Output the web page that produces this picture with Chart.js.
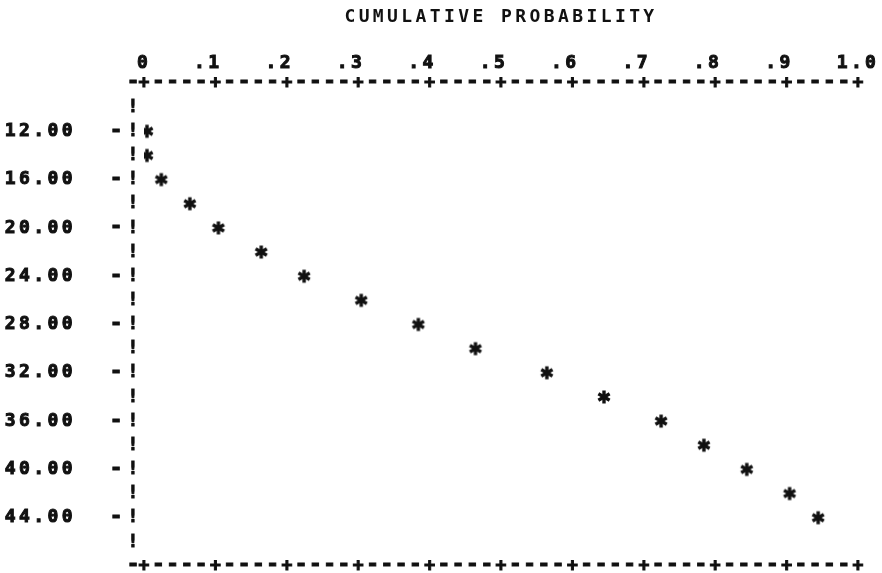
<!DOCTYPE html>
<html>
<head>
<meta charset="utf-8">
<script src="https://cdn.jsdelivr.net/npm/chart.js@4.4.1/dist/chart.umd.min.js"></script>
<style>
  html, body { margin: 0; padding: 0; background: #fff; }
  #wrap { width: 882px; height: 573px; }
</style>
</head>
<body>
<div id="wrap"><canvas id="myChart"></canvas></div>
<script>
// cumulative probability (x) against the sorted value (y, grows downward)
const probability = [0, 0, 0.02, 0.06, 0.10, 0.16, 0.22, 0.30, 0.38, 0.46, 0.56, 0.64, 0.72, 0.78, 0.84, 0.90, 0.94];
const depth = [12, 14, 16, 18, 20, 22, 24, 26, 28, 30, 32, 34, 36, 38, 40, 42, 44];

const xTickValues = [0, 0.1, 0.2, 0.3, 0.4, 0.5, 0.6, 0.7, 0.8, 0.9, 1.0];
const xTickLabels = ['0', '.1', '.2', '.3', '.4', '.5', '.6', '.7', '.8', '.9', '1.0'];
const yTickValues = [12, 16, 20, 24, 28, 32, 36, 40, 44];
const yTickLabels = ['12.00', '16.00', '20.00', '24.00', '28.00', '32.00', '36.00', '40.00', '44.00'];

const ink = '#111';
const mono = "'DejaVu Sans Mono', 'Liberation Mono', monospace";

// six armed printer asterisk, sitting a few px right of its column like on the sheet
function asterisk () {
  const c = document.createElement('canvas');
  c.width = 22; c.height = 16;
  const g = c.getContext('2d');
  g.strokeStyle = ink;
  g.lineWidth = 3.4;
  g.translate(14, 8);
  for (let a = 0; a < 3; a++) {
    const t = Math.PI / 2 + a * Math.PI / 3;
    g.beginPath();
    g.moveTo(Math.cos(t) * 6.5, Math.sin(t) * 6.5);
    g.lineTo(-Math.cos(t) * 6.5, -Math.sin(t) * 6.5);
    g.stroke();
  }
  return c;
}

// line printer frame: "-+----+" rows and the "!" column
const printerAxes = {
  id: 'printerAxes',
  beforeDraw (chart) { chart.ctx.letterSpacing = '3.4px'; },
  afterDraw (chart) {
    const ctx = chart.ctx, x = chart.scales.x, y = chart.scales.y;
    const bar = x.getPixelForValue(0) - 11;
    ctx.save();
    ctx.letterSpacing = '0px';
    ctx.fillStyle = ink;
    ctx.strokeStyle = ink;
    ctx.lineWidth = 1;
    ctx.textAlign = 'center';
    ctx.textBaseline = 'middle';
    const put = function (ch, px, py) {
      // the printer dash is a bit longer than a screen hyphen
      ctx.font = (ch === '-' ? 'bold 21px ' : 'bold 18px ') + mono;
      ctx.fillText(ch, px, py);
      ctx.strokeText(ch, px, py);
    };
    [y.min, y.max].forEach(function (v) {
      const yy = y.getPixelForValue(v);
      put('-', bar, yy);
      for (let k = 0; k <= 50; k++) {
        put(k % 5 === 0 ? '+' : '-', x.getPixelForValue(k / 50), yy);
      }
    });
    for (let v = y.min + 2; v < y.max; v += 2) {
      put('!', bar, y.getPixelForValue(v));
    }
    yTickValues.forEach(function (v) {
      put('-', bar - 17, y.getPixelForValue(v));
    });
    ctx.restore();
  }
};

function revenueChart () {
  var ctx = document.getElementById('myChart').getContext('2d');

  const data = {
    datasets: [{
      label: 'observed',
      data: probability.map((p, i) => ({ x: p, y: depth[i] })),
      pointStyle: asterisk(),
      showLine: false
    }]
  };

  new Chart(ctx, {
    type: 'scatter',
    data: data,
    plugins: [printerAxes],
    options: {
      responsive: true,
      maintainAspectRatio: false,
      animation: false,
      layout: { padding: { left: 0, top: 0, right: 24, bottom: 7 } },
      plugins: { legend: { display: false }, tooltip: { enabled: false } },
      scales: {
        x: {
          type: 'linear',
          position: 'top',
          min: 0,
          max: 1,
          grid: { display: false },
          border: { display: false },
          afterBuildTicks: s => { s.ticks = xTickValues.map(v => ({ value: v })); },
          afterFit: s => { s.height = 83; s.paddingLeft = 0; s.paddingRight = 0; },
          ticks: {
            autoSkip: false,
            maxRotation: 0,
            padding: 1,
            color: ink,
            textStrokeColor: ink,
            textStrokeWidth: 1,
            font: { family: mono, size: 18, weight: 'bold' },
            // keep the digit over the '+' like the printer did
            callback: (v, i) => xTickLabels[i].length === 2 ? xTickLabels[i] + ' ' : xTickLabels[i]
          },
          title: {
            display: true,
            text: 'CUMULATIVE PROBABILITY',
            color: ink,
            font: { family: mono, size: 18, weight: 'bold' },
            padding: { top: 7, bottom: 0 }
          }
        },
        y: {
          type: 'linear',
          reverse: true,
          min: 8,
          max: 48,
          grid: { display: false },
          border: { display: false },
          afterBuildTicks: s => { s.ticks = yTickValues.map(v => ({ value: v })); },
          afterFit: s => { s.width = 144; s.paddingTop = 0; s.paddingBottom = 0; },
          ticks: {
            padding: 60,
            color: ink,
            textStrokeColor: ink,
            textStrokeWidth: 1,
            font: { family: mono, size: 18, weight: 'bold' },
            callback: (v, i) => yTickLabels[i]
          }
        }
      }
    }
  });
};

revenueChart();
</script>
</body>
</html>
